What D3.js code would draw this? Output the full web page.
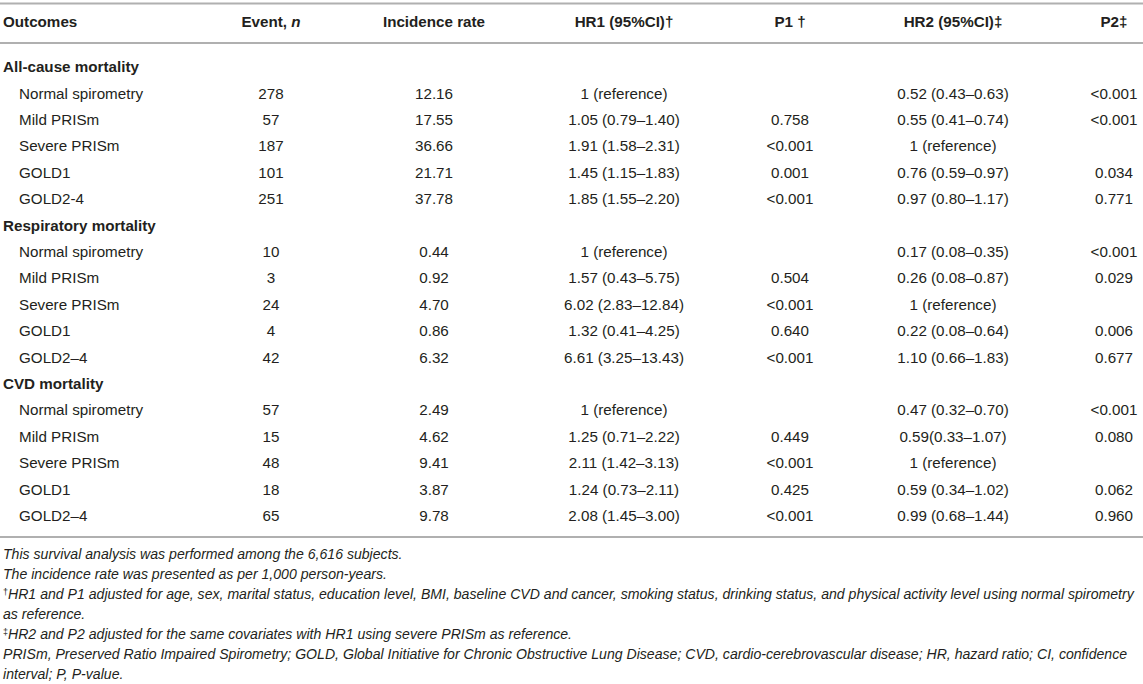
<!DOCTYPE html>
<html><head><meta charset="utf-8">
<script src="https://cdn.jsdelivr.net/npm/d3@7"></script>
<style>body{margin:0;background:#fff} svg{display:block}</style>
</head><body><svg id="c" width="1143" height="684"></svg>
<script>
// ---- data ----
const headers = ["Outcomes", "Event, n", "Incidence rate", "HR1 (95%CI)†", "P1 †", "HR2 (95%CI)‡", "P2‡"];
const sections = ["All-cause mortality", "Respiratory mortality", "CVD mortality"];
const groups = [
  ["Normal spirometry", "Mild PRISm", "Severe PRISm", "GOLD1", "GOLD2-4"],
  ["Normal spirometry", "Mild PRISm", "Severe PRISm", "GOLD1", "GOLD2–4"],
  ["Normal spirometry", "Mild PRISm", "Severe PRISm", "GOLD1", "GOLD2–4"]
];
const events = [[278, 57, 187, 101, 251], [10, 3, 24, 4, 42], [57, 15, 48, 18, 65]];
const incidence = [[12.16, 17.55, 36.66, 21.71, 37.78], [0.44, 0.92, 4.70, 0.86, 6.32], [2.49, 4.62, 9.41, 3.87, 9.78]];
const hr1 = [
  ["1 (reference)", "1.05 (0.79–1.40)", "1.91 (1.58–2.31)", "1.45 (1.15–1.83)", "1.85 (1.55–2.20)"],
  ["1 (reference)", "1.57 (0.43–5.75)", "6.02 (2.83–12.84)", "1.32 (0.41–4.25)", "6.61 (3.25–13.43)"],
  ["1 (reference)", "1.25 (0.71–2.22)", "2.11 (1.42–3.13)", "1.24 (0.73–2.11)", "2.08 (1.45–3.00)"]
];
const p1 = [
  ["", "0.758", "<0.001", "0.001", "<0.001"],
  ["", "0.504", "<0.001", "0.640", "<0.001"],
  ["", "0.449", "<0.001", "0.425", "<0.001"]
];
const hr2 = [
  ["0.52 (0.43–0.63)", "0.55 (0.41–0.74)", "1 (reference)", "0.76 (0.59–0.97)", "0.97 (0.80–1.17)"],
  ["0.17 (0.08–0.35)", "0.26 (0.08–0.87)", "1 (reference)", "0.22 (0.08–0.64)", "1.10 (0.66–1.83)"],
  ["0.47 (0.32–0.70)", "0.59(0.33–1.07)", "1 (reference)", "0.59 (0.34–1.02)", "0.99 (0.68–1.44)"]
];
const p2 = [
  ["<0.001", "<0.001", "", "0.034", "0.771"],
  ["<0.001", "0.029", "", "0.006", "0.677"],
  ["<0.001", "0.080", "", "0.062", "0.960"]
];
const footnotes = [
  {sup: "", text: "This survival analysis was performed among the 6,616 subjects."},
  {sup: "", text: "The incidence rate was presented as per 1,000 person-years."},
  {sup: "†", text: "HR1 and P1 adjusted for age, sex, marital status, education level, BMI, baseline CVD and cancer, smoking status, drinking status, and physical activity level using normal spirometry"},
  {sup: "", text: "as reference."},
  {sup: "‡", text: "HR2 and P2 adjusted for the same covariates with HR1 using severe PRISm as reference."},
  {sup: "", text: "PRISm, Preserved Ratio Impaired Spirometry; GOLD, Global Initiative for Chronic Obstructive Lung Disease; CVD, cardio-cerebrovascular disease; HR, hazard ratio; CI, confidence"},
  {sup: "", text: "interval; P, P-value."}
];

// ---- layout ----
const W = 1143, H = 684;
const FONT = "'Liberation Sans', Arial, Helvetica, sans-serif";
const INK = "#231f20";
const RULE = "#b0b0b0";
const FS = 15.2;
const svg = d3.select("#c").attr("font-family", FONT);

const colKeys = ["label", "event", "inc", "hr1", "p1", "hr2", "p2"];
const colX = d3.scaleOrdinal().domain(colKeys).range([3, 271, 434, 624, 790, 953, 1114]);
const fmtInc = d3.format(".2f");

// build rows
const rows = [];
sections.forEach((s, si) => {
  rows.push({type: "section", label: s});
  groups[si].forEach((g, gi) => {
    rows.push({type: "data", label: g, event: String(events[si][gi]), inc: fmtInc(incidence[si][gi]),
      hr1: hr1[si][gi], p1: p1[si][gi], hr2: hr2[si][gi], p2: p2[si][gi]});
  });
});
const y = d3.scaleLinear().domain([0, rows.length - 1]).range([66.7, 515.5]);

// rules
const rules = [3.5, 43, 537];
svg.selectAll("line.rule").data(rules).join("line")
  .attr("class", "rule").attr("x1", 0).attr("x2", W)
  .attr("y1", d => d).attr("y2", d => d)
  .attr("stroke", RULE).attr("stroke-width", 1.8);

// header
const hdr = svg.append("g").attr("font-weight", "bold").attr("font-size", FS).attr("fill", INK);
colKeys.forEach((k, i) => {
  const t = hdr.append("text").attr("x", colX(k)).attr("y", 22).attr("dy", "0.36em")
    .attr("text-anchor", i === 0 ? "start" : "middle");
  if (k === "event") {
    t.append("tspan").text("Event, ");
    t.append("tspan").attr("font-style", "italic").text("n");
  } else {
    t.text(headers[i]);
  }
});

// body
const body = svg.append("g").attr("font-size", FS).attr("fill", INK);
const rowG = body.selectAll("g.row").data(rows).join("g").attr("class", "row")
  .attr("transform", (d, i) => `translate(0,${y(i)})`);
rowG.filter(d => d.type === "section").append("text")
  .attr("x", colX("label")).attr("dy", "0.36em").attr("font-weight", "bold").text(d => d.label);
const dataRows = rowG.filter(d => d.type === "data");
dataRows.append("text").attr("x", colX("label") + 16).attr("dy", "0.36em").text(d => d.label);
colKeys.slice(1).forEach(k => {
  dataRows.append("text").attr("x", colX(k)).attr("dy", "0.36em").attr("text-anchor", "middle").text(d => d[k]);
});

// footnotes
const fy = d3.scaleLinear().domain([0, footnotes.length - 1]).range([554, 674]);
const fn = svg.append("g").attr("font-size", 14.1).attr("font-style", "italic").attr("fill", INK);
footnotes.forEach((f, i) => {
  const t = fn.append("text").attr("x", 3).attr("y", fy(i)).attr("dy", "0.36em");
  if (f.sup) t.append("tspan").attr("font-size", 9).attr("baseline-shift", "45%").attr("font-style", "normal").text(f.sup);
  t.append("tspan").text(f.text);
});
</script></body></html>
